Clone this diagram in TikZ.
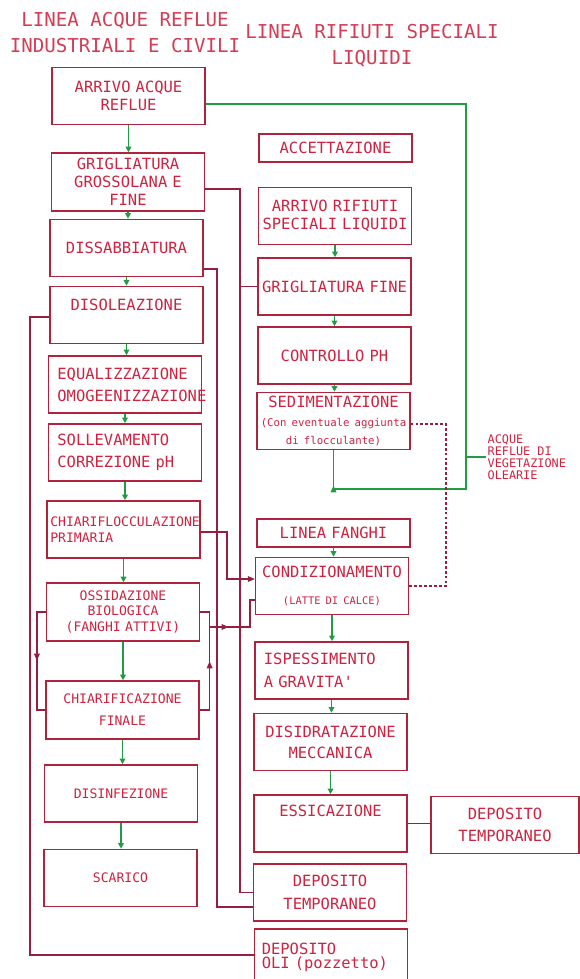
\documentclass[tikz,border=0pt]{standalone}
\usepackage{fontspec}
\usepackage{tikz}
\usetikzlibrary{arrows.meta,calc,decorations.markings}
\newfontfamily\cadfont{DejaVu Sans Mono}

\definecolor{boxred}{RGB}{175,35,60}
\definecolor{txtred}{RGB}{205,35,65}
\definecolor{titlered}{RGB}{210,60,85}
\definecolor{linkred}{RGB}{150,30,65}
\definecolor{flowgreen}{RGB}{35,155,70}

\tikzset{
  box/.style={draw=boxred, line width=1pt, text=txtred, font=\cadfont\fontsize{11}{12.8}\selectfont,
    align=center, text width=3.7cm, inner xsep=0.06cm, inner ysep=1pt, minimum height=1.43cm},
  lbox/.style={box, align=left, text width=3.38cm, inner xsep=0.22cm},
  smallbox/.style={box, font=\cadfont\fontsize{9.3}{11.2}\selectfont},
  thinbox/.style={box, minimum height=0.7cm},
  flow/.style={draw=flowgreen, line width=1pt, -{Triangle[length=4pt,width=4pt]}},
  greenline/.style={draw=flowgreen, line width=1pt},
  link/.style={draw=linkred, line width=0.9pt},
  linkarrow/.style={link, -{Triangle[length=5pt,width=4pt]}},
  midarrow/.style={postaction={decorate}, decoration={markings,
    mark=at position #1 with {\arrow{Triangle[length=5pt,width=4pt]}}}},
  title/.style={text=titlered, font=\cadfont\fontsize{13.6}{18.5}\selectfont, align=center},
  olvtext/.style={text=txtred, font=\cadfont\fontsize{8.4}{8.4}\selectfont, align=left, inner sep=1pt}
}

\begin{document}
\begin{tikzpicture}[x=0.025cm, y=-0.025cm]
	\useasboundingbox (0,0) rectangle (579,979);

	% titoli
	\node[title] (tleft) at (125,33) {LINEA ACQUE REFLUE\\INDUSTRIALI E CIVILI};
	\node[title] (tright) at (372,46) {LINEA RIFIUTI SPECIALI\\LIQUIDI};

	% linea acque reflue
	\node[box] (arr) at (128.5,96) {ARRIVO ACQUE\\REFLUE};
	\node[box, minimum height=1.45cm] (grg) at (128,182) {GRIGLIATURA\\GROSSOLANA E\\FINE};
	\node[box] (dis) at (126.5,248) {DISSABBIATURA};
	\node[box, text height=8pt, text depth=15pt] (dol) at (126.5,315) {DISOLEAZIONE};
	\node[lbox, font=\cadfont\fontsize{11}{15.5}\selectfont] (equ) at (125,384.5) {EQUALIZZAZIONE\\OMOGEENIZZAZIONE};
	\node[lbox, font=\cadfont\fontsize{11}{15.5}\selectfont] (sol) at (125,452.5) {SOLLEVAMENTO\\CORREZIONE pH};
	\node[smallbox, align=left, inner xsep=0.08cm, text width=3.66cm] (chp) at (123.5,529.5) {CHIARIFLOCCULAZIONE\\PRIMARIA};
	\node[smallbox, minimum height=1.45cm] (oss) at (123,612) {OSSIDAZIONE\\BIOLOGICA\\(FANGHI ATTIVI)};
	\node[smallbox, minimum height=1.45cm, font=\cadfont\fontsize{9.3}{15.5}\selectfont] (chf) at (122.5,710) {CHIARIFICAZIONE\\FINALE};
	\node[smallbox] (dsf) at (121,793.5) {DISINFEZIONE};
	\node[smallbox] (sca) at (120.5,878) {SCARICO};

	% linea rifiuti speciali
	\node[thinbox] (acc) at (335.5,148) {ACCETTAZIONE};
	\node[box] (ars) at (335,216) {ARRIVO RIFIUTI\\SPECIALI LIQUIDI};
	\node[box] (gfn) at (334.5,286.5) {GRIGLIATURA FINE};
	\node[box] (cph) at (334.5,355.5) {CONTROLLO PH};
	\node[box] (sed) at (333.5,421) {SEDIMENTAZIONE\\[4pt]\fontsize{7.6}{9}\selectfont (Con eventuale aggiunta\\di flocculante)};
	\node[thinbox] (lfa) at (333.5,533) {LINEA FANGHI};
	\node[box] (con) at (332,586) {CONDIZIONAMENTO\\[7pt]\fontsize{7.4}{9}\selectfont (LATTE DI CALCE)};
	\node[lbox, font=\cadfont\fontsize{11}{16}\selectfont] (isp) at (331.5,670.5) {ISPESSIMENTO\\A GRAVITA'};
	\node[box, font=\cadfont\fontsize{11}{15}\selectfont] (ddr) at (330.5,742) {DISIDRATAZIONE\\MECCANICA};
	\node[box, text height=8pt, text depth=18pt] (ess) at (330.5,823.5) {ESSICAZIONE};
	\node[box, text width=3.58cm, font=\cadfont\fontsize{11}{16}\selectfont] (dtr) at (505,825) {DEPOSITO\\TEMPORANEO};
	\node[box, font=\cadfont\fontsize{11}{16}\selectfont] (dtm) at (330,892.5) {DEPOSITO\\TEMPORANEO};
	\node[lbox, inner xsep=0.18cm, text width=3.46cm, minimum height=1.4cm, font=\cadfont\fontsize{11}{10}\selectfont] (doli) at (331,957) {DEPOSITO\\ OLI (pozzetto)};

	\node[olvtext, anchor=west] (olv) at (486,457) {ACQUE\\REFLUE DI\\VEGETAZIONE\\OLEARIE};

	% frecce verdi
	\foreach \a/\b in {arr/grg,grg/dis,dis/dol,dol/equ,equ/sol,sol/chp,chp/oss,oss/chf,chf/dsf,dsf/sca,ars/gfn,gfn/cph,cph/sed,lfa/con,con/isp,isp/ddr,ddr/ess}
		\draw[flow] (\a.south) -- (\a.south |- \b.north);

	% acque di vegetazione
	\coordinate (olvB) at (466,489);
	\draw[greenline, midarrow=0.957] ($(arr.east)+(0,8)$) -| (olvB) -| (sed.south);
	\draw[greenline] (olv.west) -- (olv.west -| olvB);

	% collegamenti rossi
	\coordinate (tapG) at (240,286.5);
	\draw[link] ($(grg.east)+(0,7)$) -| (tapG) |- (dtm.west);
	\draw[link] (tapG) -- (gfn.west);

	\coordinate (dssB) at (217,907);
	\draw[link] ($(dis.east)+(0,21)$) -| (dssB) -- (dssB -| dtm.west);

	\coordinate (oilB) at (30,955);
	\draw[link] ($(dol.west)+(0,2)$) -| (oilB) -- (oilB -| doli.west);

	\coordinate (chpB) at (227,579);
	\draw[linkarrow] ($(chp.east)+(0,2.5)$) -| (chpB) -- (chpB -| con.west);

	% ricircolo fanghi
	\draw[link, midarrow=0.5] (oss.west) -- ++(-9,0) |- (chf.west);
	\draw[link, midarrow=0.5] (chf.east) -- ++(10,0) |- (oss.east);

	\coordinate (wasA) at (209,627);
	\coordinate (wasB) at (250,600);
	\draw[link, midarrow=0.27] (wasA) -| (wasB) -- (wasB -| con.west);

	\coordinate (dashR) at (446,586);
	\draw[link, dash pattern=on 2pt off 1.5pt] ($(sed.east)+(0,3)$) -| (dashR) -- (con.east);

	\draw[link] (ess.east) -- (ess.east -| dtr.west);
\end{tikzpicture}
\end{document}
